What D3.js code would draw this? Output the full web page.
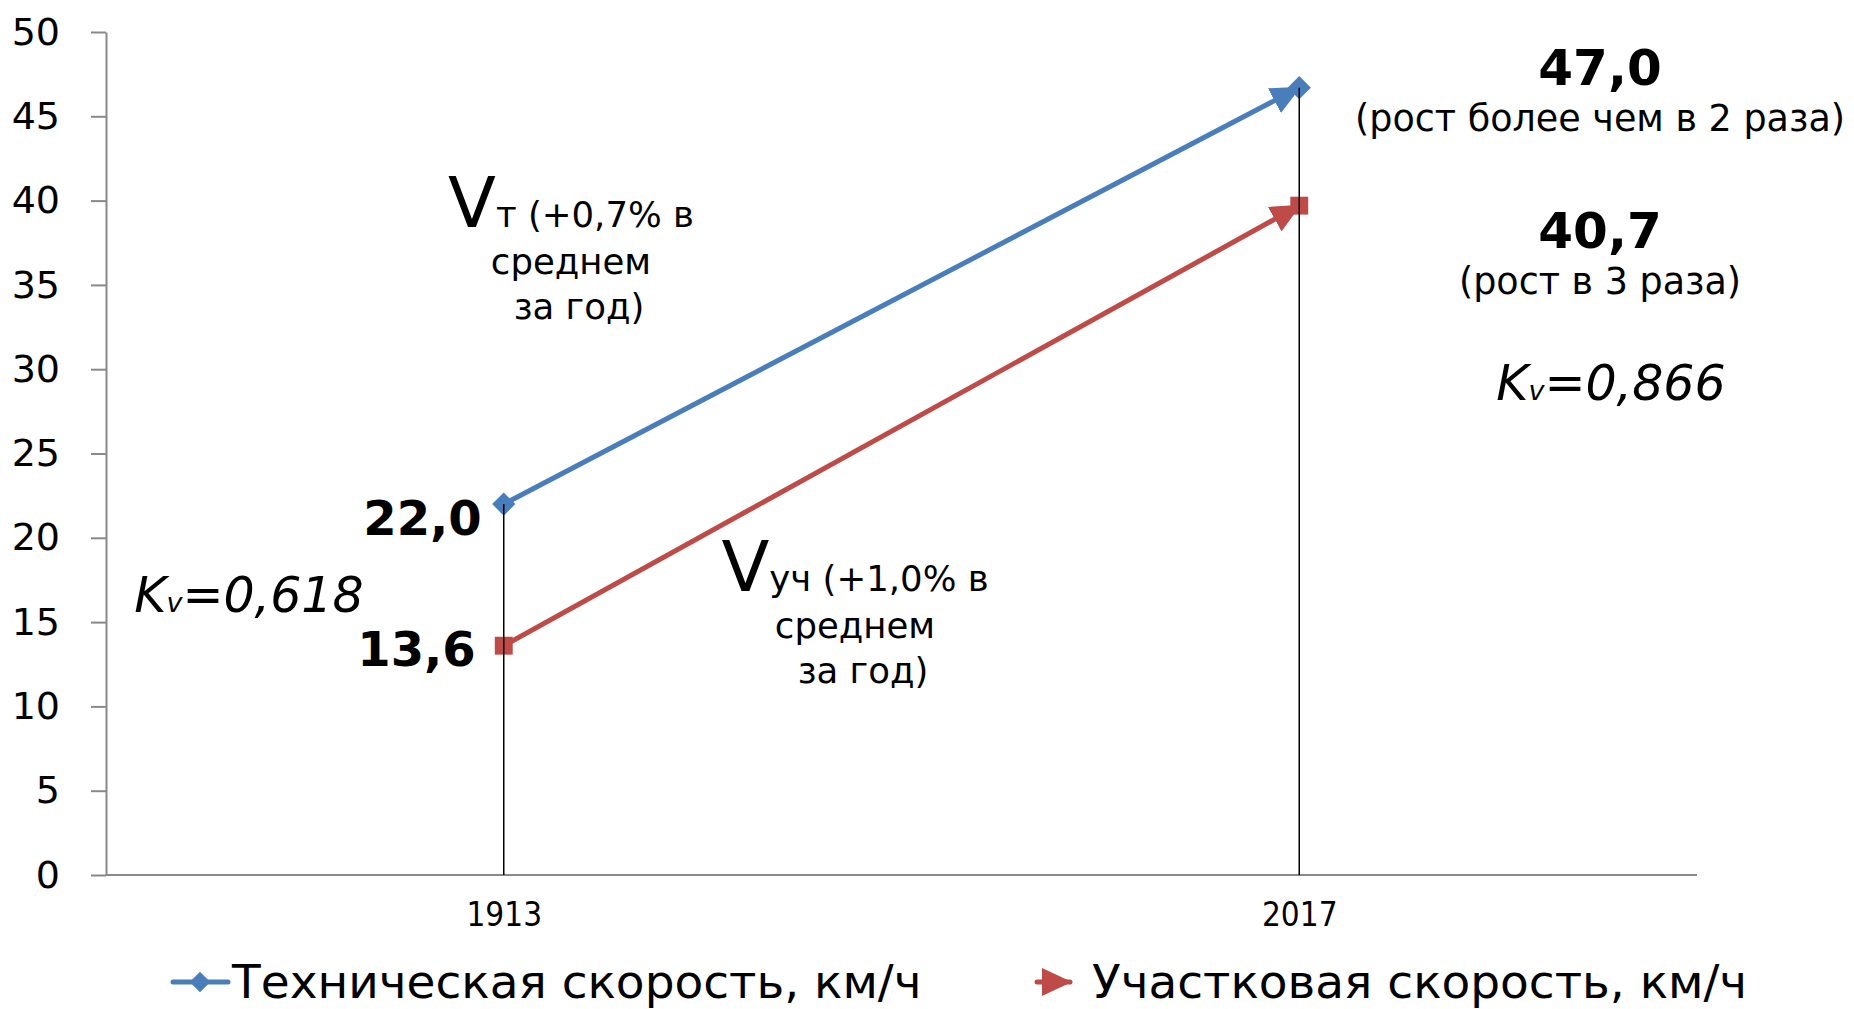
<!DOCTYPE html>
<html>
<head>
<meta charset="utf-8">
<script src="https://cdn.jsdelivr.net/npm/d3@7"></script>
<style>
  body { margin: 0; background: #fff; }
  svg { display: block; font-family: "DejaVu Sans", Verdana, sans-serif; }
</style>
</head>
<body>
<div id="chart"></div>
<script>
// categories and series
const years = ["1913", "2017"];
const techSpeed = [22.0, 46.7];
const sectSpeed = [13.6, 39.7];
const seriesNames = ["Техническая скорость, км/ч", "Участковая скорость, км/ч"];
const yTicks = [0, 5, 10, 15, 20, 25, 30, 35, 40, 45, 50];
const startLabels = ["22,0", "13,6"];
const endLabels = ["47,0", "40,7"];
const endNotes = ["(рост более чем в 2 раза)", "(рост в 3 раза)"];
const kvLabels = ["0,618", "0,866"];

const width = 1854, height = 1009;
const blue = "#4a7ebb", red = "#be4b48";

const svg = d3.select("#chart").append("svg")
  .attr("width", width)
  .attr("height", height);

const x = d3.scalePoint().domain(years).range([106, 1697]).padding(0.5);
const y = d3.scaleLinear().domain([0, 50]).range([875, 32]);

// arrow heads
const defs = svg.append("defs");
[["arrBlue", blue], ["arrRed", red]].forEach(([id, c]) => {
  defs.append("marker")
    .attr("id", id)
    .attr("markerUnits", "userSpaceOnUse")
    .attr("viewBox", "0 0 30 28")
    .attr("refX", 28).attr("refY", 14)
    .attr("markerWidth", 30).attr("markerHeight", 28)
    .attr("orient", "auto")
    .append("path").attr("d", "M0,0L30,14L0,28Z").attr("fill", c);
});

// y axis
const yAxis = svg.append("g")
  .attr("transform", `translate(${x.range()[0]},0)`)
  .call(d3.axisLeft(y).tickValues(yTicks).tickSize(15).tickPadding(31).tickSizeOuter(0));
yAxis.select(".domain").attr("stroke", "#898989").attr("stroke-width", 2);
yAxis.selectAll(".tick line").attr("stroke", "#898989").attr("stroke-width", 2);
yAxis.selectAll("text").attr("font-size", 38).attr("fill", "#000")
  .attr("font-family", "DejaVu Sans");

// x axis
const xAxis = svg.append("g")
  .attr("transform", `translate(0,${y(0)})`)
  .call(d3.axisBottom(x).tickSize(0).tickSizeOuter(0).tickPadding(28));
xAxis.select(".domain").attr("stroke", "#898989").attr("stroke-width", 2)
  .attr("d", `M${x.range()[0]},0H${x.range()[1]}`);
xAxis.selectAll("text").attr("font-size", 33).attr("fill", "#000")
  .attr("font-family", "DejaVu Sans Condensed");

// diamond = square turned by 45 degrees
const series = [
  { name: seriesNames[0], values: techSpeed, color: blue, arrow: "arrBlue", size: 270, rot: 45 },
  { name: seriesNames[1], values: sectSpeed, color: red, arrow: "arrRed", size: 320, rot: 0 }
];

const line = d3.line().x((d, i) => x(years[i])).y(d => y(d));

series.forEach(s => {
  svg.append("path")
    .datum(s.values)
    .attr("d", line)
    .attr("fill", "none")
    .attr("stroke", s.color)
    .attr("stroke-width", 5)
    .attr("marker-end", `url(#${s.arrow})`);
  svg.append("g").selectAll("path")
    .data(s.values)
    .enter().append("path")
    .attr("transform", (d, i) => `translate(${x(years[i])},${y(d)}) rotate(${s.rot})`)
    .attr("d", d3.symbol().type(d3.symbolSquare).size(s.size))
    .attr("fill", s.color);
});

// drop lines
years.forEach((yr, i) => {
  const top = Math.max(techSpeed[i], sectSpeed[i]);
  svg.append("line")
    .attr("x1", x(yr)).attr("x2", x(yr))
    .attr("y1", y(top)).attr("y2", y(0))
    .attr("stroke", "#000").attr("stroke-width", 1.5);
});

// value labels at 1913
svg.append("g").selectAll("text")
  .data([techSpeed[0], sectSpeed[0]])
  .enter().append("text")
  .attr("x", (d, i) => x(years[0]) - (i === 0 ? 22 : 28))
  .attr("y", (d, i) => y(d) + (i === 0 ? 31 : 20))
  .attr("text-anchor", "end")
  .attr("font-size", 48)
  .attr("font-weight", "bold")
  .text((d, i) => startLabels[i]);

// labels at the right
const rx = 1600;
[techSpeed[1], sectSpeed[1]].forEach((v, i) => {
  svg.append("text")
    .attr("x", rx).attr("y", i === 0 ? 85 : 248)
    .attr("text-anchor", "middle")
    .attr("font-size", 50).attr("font-weight", "bold")
    .text(endLabels[i]);
  svg.append("text")
    .attr("x", rx).attr("y", i === 0 ? 131 : 294)
    .attr("text-anchor", "middle")
    .attr("font-size", 36.5)
    .text(endNotes[i]);
});

// Kv labels
function kv(xp, yp, val) {
  const t = svg.append("text")
    .attr("x", xp).attr("y", yp)
    .attr("text-anchor", "middle")
    .attr("font-style", "italic")
    .attr("font-size", 49);
  t.append("tspan").text("K");
  t.append("tspan").attr("font-size", 27).text("v");
  t.append("tspan").text("=" + val);
}
kv(249, 612, kvLabels[0]);
kv(1611, 400, kvLabels[1]);

// growth notes
function note(cx, by, sub, pct) {
  const t = svg.append("text")
    .attr("x", cx).attr("y", by)
    .attr("text-anchor", "middle")
    .attr("font-size", 35.5);
  t.append("tspan").attr("font-size", 70).text("V");
  t.append("tspan").text(sub + " (" + pct + " в");
  svg.append("text").attr("x", cx).attr("y", by + 47)
    .attr("text-anchor", "middle").attr("font-size", 35.5).text("среднем");
  svg.append("text").attr("x", cx + 8).attr("y", by + 92)
    .attr("text-anchor", "middle").attr("font-size", 35.5).text("за год)");
}
note(571, 227, "т", "+0,7%");
note(855, 591, "уч", "+1,0%");

// legend
const legY = 982;
const lg = svg.append("g");
lg.append("line").attr("x1", 173).attr("x2", 228).attr("y1", legY).attr("y2", legY)
  .attr("stroke", blue).attr("stroke-width", 5).attr("stroke-linecap", "round");
lg.append("path").attr("transform", `translate(200,${legY}) rotate(45)`)
  .attr("d", d3.symbol().type(d3.symbolSquare).size(210)).attr("fill", blue);
lg.append("text").attr("x", 232).attr("y", legY + 16).attr("font-size", 47).text(seriesNames[0]);

lg.append("line").attr("x1", 1037).attr("x2", 1070).attr("y1", legY).attr("y2", legY)
  .attr("stroke", red).attr("stroke-width", 5).attr("stroke-linecap", "round")
  .attr("marker-end", "url(#arrRed)");
lg.append("text").attr("x", 1092).attr("y", legY + 16).attr("font-size", 47).text(seriesNames[1]);
</script>
</body>
</html>
